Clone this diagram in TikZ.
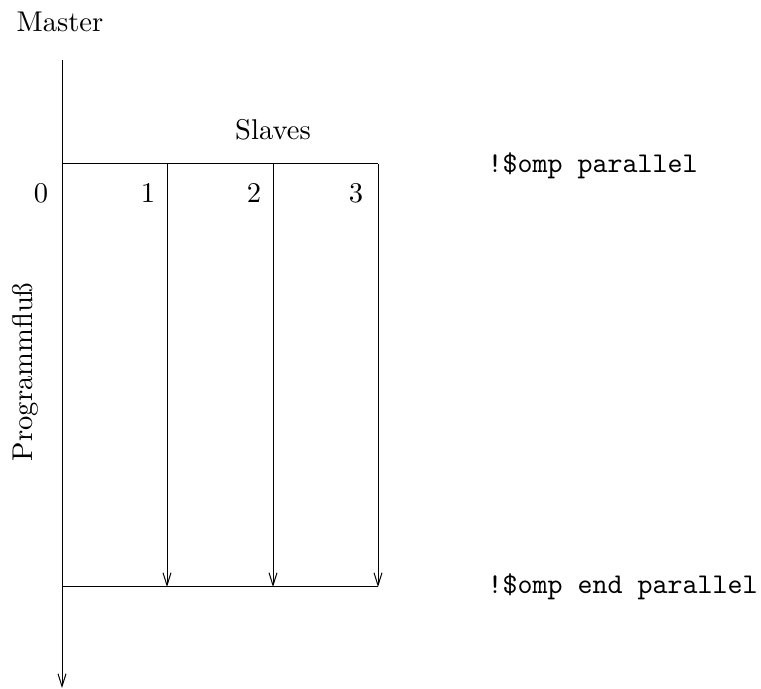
\documentclass[tikz,border=0pt]{standalone}
\usetikzlibrary{arrows.meta}
\begin{document}
\begin{tikzpicture}[x=0.35pt,y=-0.35pt,
  flow/.style={line width=0.35pt,-{Straight Barb[length=4.4pt,width=2.8pt,line width=0.35pt]}},
  bar/.style={line width=0.35pt},
  lbl/.style={inner sep=0pt,anchor=center},
  omp/.style={inner sep=0pt,anchor=west,font=\ttfamily}]
\useasboundingbox (0,0) rectangle (761,689);
% master thread
\coordinate (mtop) at (62,60);
\coordinate (mfork) at (62,164);
\coordinate (mjoin) at (62,587);
\coordinate (mend) at (62,688);
% slave threads
\coordinate (s1top) at (167,164);
\coordinate (s2top) at (273,164);
\coordinate (s3top) at (378,164);
\coordinate (s1end) at (167,587);
\coordinate (s2end) at (273,587);
\coordinate (s3end) at (378,587);

\draw[flow] (mtop) -- (mend);
\draw[bar] (mfork) -- (s3top);
\draw[bar] (mjoin) -- (s3end);
\draw[flow] (s1top) -- (s1end);
\draw[flow] (s2top) -- (s2end);
\draw[flow] (s3top) -- (s3end);

\node[lbl] (master) at (60,22) {Master};
\node[lbl] (slaves) at (273,130) {Slaves};
\node[lbl] (n0) at (41,193) {0};
\node[lbl] (n1) at (148,193) {1};
\node[lbl] (n2) at (254,193) {2};
\node[lbl] (n3) at (356,193) {3};
\node[lbl,rotate=90] (flowlbl) at (25,372) {Programmflu\ss};
\node[omp] (par) at (487,166) {!\$omp parallel};
\node[omp] (endpar) at (487,587) {!\$omp end parallel};
\end{tikzpicture}
\end{document}
